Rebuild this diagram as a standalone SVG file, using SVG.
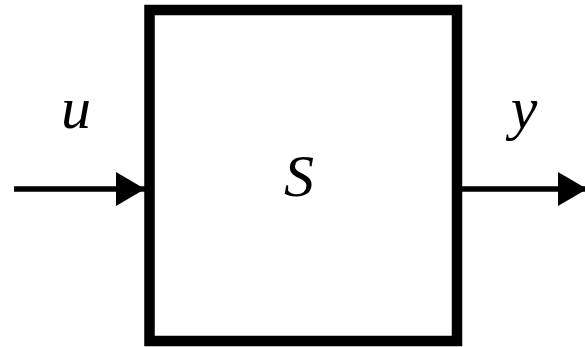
<svg xmlns="http://www.w3.org/2000/svg" width="585" height="347" viewBox="0 0 585 347">
<style>
.lbl{font-family:"Liberation Serif","DejaVu Serif",serif;font-style:italic;font-size:60px;fill:#000;text-anchor:middle}
.edge{stroke:#000;stroke-width:5.5;fill:none}
</style>
<defs>
<marker id="ah" markerUnits="userSpaceOnUse" markerWidth="30" markerHeight="34" refX="29" refY="17" orient="auto">
<path d="M0,0 L29,17 L0,34 Z" fill="#000"/>
</marker>
</defs>
<rect width="585" height="347" fill="#fff"/>
<g id="node-S">
<rect x="149.5" y="10" width="307.5" height="331" fill="#fff" stroke="#000" stroke-width="10.5"/>
<text class="lbl" x="299" y="196">S</text>
</g>
<g id="connectors">
<line class="edge" x1="14" y1="189" x2="145" y2="189" marker-end="url(#ah)"/>
<line class="edge" x1="462" y1="189" x2="587" y2="189" marker-end="url(#ah)"/>
</g>
<g id="labels">
<text class="lbl" x="76" y="128">u</text>
<text class="lbl" x="524" y="128">y</text>
</g>
</svg>
